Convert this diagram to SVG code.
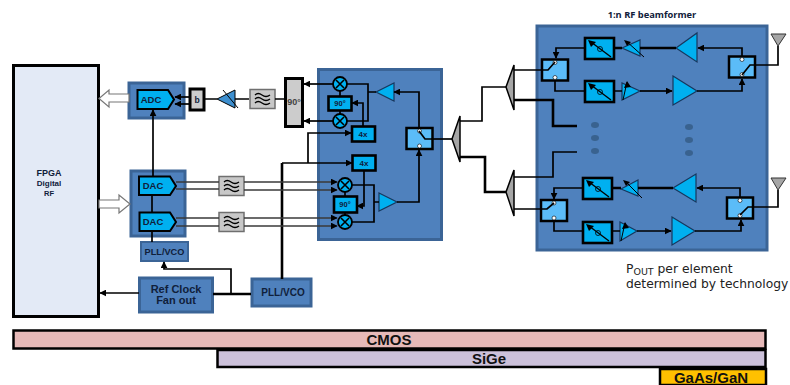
<svg xmlns="http://www.w3.org/2000/svg" width="790" height="385" viewBox="0 0 790 385">
<style>
text{font-family:"Liberation Sans",Arial,sans-serif;text-anchor:middle;fill:#10203a}
.blk{fill:#4f81bd;stroke:#3b6496;stroke-width:3}
.cy{fill:#00b0f0;stroke:#000;stroke-width:2}
.cb{fill:#00b0f0;stroke:#000;stroke-width:2.600}
.cyt{fill:#00b0f0;stroke:#17375e;stroke-width:1.2}
.gr{fill:#ccc;stroke:#000;stroke-width:3}
.fl{fill:#c8c8c8;stroke:#6f6f6f;stroke-width:1.5}
.w{fill:none;stroke:#000;stroke-width:1.7}
.t{fill:none;stroke:#000;stroke-width:2.6}
.g{fill:none;stroke:#3a3a3a;stroke-width:1.6}
.h{fill:#fff;stroke:#777;stroke-width:1.2}
.sp{fill:#a6a6a6;stroke:#000;stroke-width:1.5}
.dot{fill:#39628f}
.bar{stroke:#000;stroke-width:2.5}
</style>
<defs>
<marker id="a" viewBox="0 0 10 10" refX="9" refY="5" markerWidth="7" markerHeight="7" markerUnits="userSpaceOnUse" orient="auto"><path d="M0 0L10 5L0 10Z"/></marker>
<g id="sw"><rect x="0" y="0" width="26" height="21" fill="#5bbcf8" stroke="#000" stroke-width="2.5"/><circle cx="13" cy="3" r="2" fill="#fff" stroke="#000" stroke-width=".6"/><circle cx="13" cy="18" r="2" fill="#fff" stroke="#000" stroke-width=".6"/></g>
<g id="ps"><rect x="0" y="0" width="29" height="21" fill="#00b0f0" stroke="#000" stroke-width="2.6"/><path d="M26 19L6 4" stroke="#000" stroke-width="1.3"/><path d="M3 2L11 4L6 9Z"/><circle cx="15" cy="11" r="2.5" fill="none" stroke="#000" stroke-width=".8"/></g>
<g id="flt"><path d="M5 6q3-3 7 0t8 0M5 10q3-3 7 0t8 0M5 14q3-3 7 0t8 0" fill="none" stroke="#000" stroke-width="1.3"/></g>
<g id="mx"><circle r="7" fill="#00b0f0" stroke="#000" stroke-width="1.8"/><path d="M-4-4L4 4M-4 4L4-4" stroke="#000" stroke-width="1.6"/></g>
</defs>

<g id="blocks">
<rect x="318.500" y="69.500" width="123" height="170" class="blk"/>
<rect x="537" y="26" width="230" height="224" class="blk"/>
</g>

<g id="fpga"><rect x="13.500" y="65.500" width="85" height="251" fill="#e3eaf6" stroke="#000" stroke-width="3"/>
<text x="49" y="176" font-size="9" font-weight="bold">FPGA</text><text x="49" y="186" font-size="8" font-weight="bold">Digital</text><text x="49" y="196" font-size="7.500" font-weight="bold">RF</text></g>

<g id="adc"><rect x="129" y="83" width="55" height="35" class="blk"/><path class="cy" d="M137.500 90H168L174 99.500L168 109H137.500Z"/><text x="151" y="103" font-size="9.500" font-weight="bold">ADC</text></g>
<g id="b-latch"><rect x="190" y="89" width="14" height="21" class="gr"/><text x="197" y="103" font-size="8.500" font-weight="bold">b</text></g>
<g id="rx-amp"><path d="M217 99L235 90V108Z" style="fill:#3d8fcf;stroke:#000"/><path d="M223 90L238 108" stroke="#000" stroke-width="1"/></g>
<g id="filter1"><rect x="250" y="89.500" width="25" height="19" class="fl"/><use href="#flt" x="250" y="89"/></g>
<g id="q90"><rect x="285.500" y="78.500" width="17" height="48" class="gr"/><text x="294" y="105" font-size="9" font-weight="bold" style="fill:#444">90°</text></g>

<g id="dacs"><rect x="131" y="171" width="54" height="65" class="blk"/>
<path class="cy" d="M139 176.500H170L176 186L170 195H139Z"/><text x="153" y="189" font-size="9.500" font-weight="bold">DAC</text>
<path class="cy" d="M139.500 212.500H170L176 222L170 231H139.500Z"/><text x="153" y="225" font-size="9.500" font-weight="bold">DAC</text></g>
<g id="pll1"><rect x="141" y="242" width="47" height="19" fill="#4f81bd" stroke="#3b6496" stroke-width="2"/><text x="164.500" y="255" font-size="9.200" font-weight="bold">PLL/VCO</text></g>
<g id="refclk"><rect x="139.500" y="278" width="73" height="34" class="blk"/><text x="176" y="293" font-size="11" font-weight="bold">Ref Clock</text><text x="176" y="304" font-size="11" font-weight="bold">Fan out</text></g>
<g id="pll2"><rect x="252" y="279" width="59" height="27" class="blk"/><text x="283" y="296" font-size="10" font-weight="bold">PLL/VCO</text></g>
<g id="filter2"><rect x="219" y="176.500" width="25" height="19" class="fl"/><use href="#flt" x="219" y="176"/></g>
<g id="filter3"><rect x="219" y="212.500" width="25" height="19" class="fl"/><use href="#flt" x="219" y="212"/></g>

<g id="tr"><use href="#mx" x="340" y="84"/><use href="#mx" x="340" y="121"/>
<rect x="328.500" y="96.500" width="23" height="14" class="cb"/><text x="340" y="106" font-size="7.500" font-weight="bold">90°</text>
<rect x="352" y="126.500" width="23" height="15" class="cb"/><text x="363" y="137" font-size="8" font-weight="bold">4x</text>
<rect x="352.500" y="155.500" width="23" height="15" class="cb"/><text x="364" y="166" font-size="8" font-weight="bold">4x</text>
<use href="#mx" x="345" y="185"/><use href="#mx" x="345" y="222"/>
<rect x="334" y="196.500" width="23" height="16" class="cb"/><text x="345" y="207" font-size="7.500" font-weight="bold">90°</text>
<path d="M376 92L394 83V101Z" class="cyt"/><path d="M379 193L397 202L379 211Z" class="cyt"/>
<use href="#sw" x="406.500" y="128"/></g>

<g id="splitters"><path class="sp" d="M452 139L460 116V162Z"/><path class="sp" d="M506 87L514 65V110Z"/><path class="sp" d="M506 192L514 170V216Z"/></g>

<g id="top-chain"><use href="#sw" x="542" y="59.500"/><use href="#ps" x="585" y="38"/><path d="M622 48L640 40V56Z" class="cyt"/><path d="M626 41L644 57" stroke="#000" stroke-width="1"/><path d="M624 40L631 42L627 46Z"/>
<path d="M676 48L697 33V62Z" class="cyt"/><use href="#sw" x="729" y="56.500"/>
<use href="#ps" x="585" y="81"/><path d="M622 83V100L640 91Z" class="cyt"/><path d="M623 100L627 82" stroke="#000" stroke-width="1"/><path d="M627 81L631 87L624 88Z"/><path d="M673 76L697 91L673 105Z" class="cyt"/></g>
<g id="bot-chain"><use href="#sw" x="541" y="200"/><use href="#ps" x="583" y="178"/><path d="M621 189L638 180V196Z" class="cyt"/><path d="M625 181L642 198" stroke="#000" stroke-width="1"/><path d="M623 180L630 182L626 186Z"/>
<path d="M673 188L696 174V202Z" class="cyt"/><use href="#sw" x="727" y="197.500"/>
<use href="#ps" x="583" y="222"/><path d="M620 222V241L637 231Z" class="cyt"/><path d="M621 241L625 223" stroke="#000" stroke-width="1"/><path d="M625 222L629 228L622 229Z"/><path d="M672 217L695 231L672 245Z" class="cyt"/></g>

<g id="antennas"><path d="M771 34H786L778 46Z" fill="#a6a6a6" stroke="#333"/><path d="M771 178H786L778 190Z" fill="#a6a6a6" stroke="#333"/></g>
<g id="dots"><ellipse class="dot" cx="595" cy="125" rx="4" ry="3"/><ellipse class="dot" cx="595" cy="138" rx="4" ry="3"/><ellipse class="dot" cx="595" cy="151" rx="4" ry="3"/><ellipse class="dot" cx="689" cy="127" rx="4" ry="3"/><ellipse class="dot" cx="689" cy="140" rx="4" ry="3"/><ellipse class="dot" cx="689" cy="153" rx="4" ry="3"/></g>

<g id="connectors">
<path class="h" d="M129 94H109V90L99 98.500L109 107V102H129Z"/>
<path class="h" d="M99 200H119V195L130 204L119 213V208H99Z"/>
<path class="w" d="M153 176V110" marker-end="url(#a)"/>
<path class="w" d="M152 195V212M152 231V242"/>
<path class="w" d="M139 293H100" marker-end="url(#a)"/>
<path class="t" d="M213 294H251"/>
<path class="w" d="M231 294V269H164V262" marker-end="url(#a)"/>
<path class="w" d="M205 99H217M235 99H249M275 99H285"/>
<path class="w" d="M190 97H175" marker-end="url(#a)"/>
<path class="w" d="M190 104H175" marker-end="url(#a)"/>
<path class="t" d="M282 279V163"/>
<path class="w" d="M282 163H352" marker-end="url(#a)"/>
<path class="w" d="M308 163V133H351" marker-end="url(#a)"/>
<path class="g" d="M176 182H219M176 189H219M176 218H219M176 226H219"/>
<path class="g" d="M244 182H337" marker-end="url(#a)"/>
<path class="g" d="M244 190H337" marker-end="url(#a)"/>
<path class="g" d="M244 218H337" marker-end="url(#a)"/>
<path class="g" d="M244 226H337" marker-end="url(#a)"/>
<path class="w" d="M333 84H304" marker-end="url(#a)"/>
<path class="w" d="M333 121H304" marker-end="url(#a)"/>
<path class="w" d="M347 84H368V121H347M368 92H376"/>
<path class="w" d="M363 126V103H352" marker-end="url(#a)"/>
<path class="w" d="M340 91V96M340 111V114M345 192V196M345 213V215"/>
<path class="w" d="M364 170V206H357" marker-end="url(#a)"/>
<path class="w" d="M352 185H374V222H352M374 202H379"/>
<path class="w" d="M397 202H419V150" marker-end="url(#a)"/>
<path class="w" d="M419 128V92H394" marker-end="url(#a)"/>
<path class="w" d="M431 139H425L419 131"/>
<path class="w" d="M431 139H452"/>
<path class="w" d="M460 121H482V87H506"/>
<path class="t" d="M460 157H485V192H506"/>
<path class="w" d="M514 70H542M514 209H541"/>
<path class="t" d="M514 100H553V126H577"/>
<path class="w" d="M514 177H553V152H577"/>
<path class="w" d="M542 70H548L555 62"/>
<path class="w" d="M585 48H556V58" marker-end="url(#a)"/>
<path class="t" d="M614 48H622M640 48H676"/>
<path class="w" d="M555 81V91H585M614 91H622"/>
<path class="w" d="M640 91H672" marker-end="url(#a)"/>
<path class="w" d="M697 91H742V79" marker-end="url(#a)"/>
<path class="w" d="M742 56V48H698" marker-end="url(#a)"/>
<path class="w" d="M757 65H750L742 75"/>
<path class="w" d="M757 65H778V46"/>
<path class="w" d="M541 209H547L554 203"/>
<path class="w" d="M583 188H554V199" marker-end="url(#a)"/>
<path class="t" d="M613 188H621M638 188H673"/>
<path class="w" d="M554 221V231H583M613 231H620"/>
<path class="w" d="M637 231H671" marker-end="url(#a)"/>
<path class="w" d="M695 231H741V220" marker-end="url(#a)"/>
<path class="w" d="M740 197V188H697" marker-end="url(#a)"/>
<path class="w" d="M755 207H748L740 215"/>
<path class="w" d="M755 207H778V190"/>
</g>

<g id="labels">
<text x="652" y="18" font-size="9.300" font-weight="bold" style="font-family:'Open Sans',sans-serif">1:n RF beamformer</text>
<text x="626" y="273" font-size="12.300" style="text-anchor:start;font-family:'DejaVu Sans',sans-serif;fill:#222">P<tspan font-size="9.500" dy="2">OUT</tspan><tspan dy="-2"> per element</tspan></text>
<text x="626" y="288" font-size="12.300" style="text-anchor:start;font-family:'DejaVu Sans',sans-serif;fill:#222">determined by technology</text>
</g>

<g id="cmos"><rect x="13.500" y="330.500" width="752" height="18" fill="#e6b9b8" class="bar"/><text x="389" y="345" font-size="15" font-weight="bold" style="fill:#111">CMOS</text></g>
<g id="sige"><rect x="217.500" y="350" width="548" height="17" fill="#ccc1da" class="bar"/><text x="489" y="364" font-size="15" font-weight="bold" style="fill:#111">SiGe</text></g>
<g id="gaas"><rect x="660" y="369" width="106" height="16" fill="#ffc000" class="bar"/><text x="711" y="383" font-size="15" font-weight="bold" style="fill:#111">GaAs/GaN</text></g>
</svg>
